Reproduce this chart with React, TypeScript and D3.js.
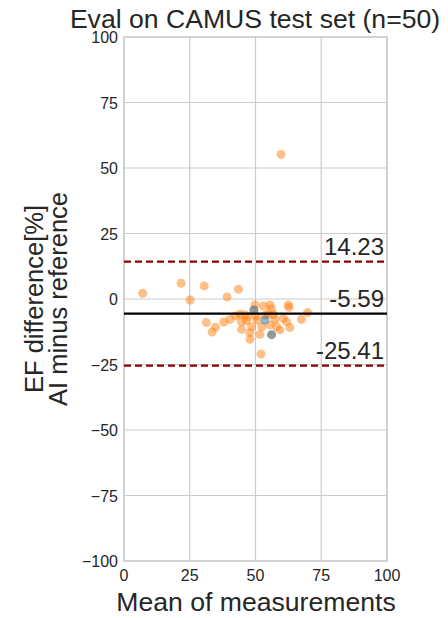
import React from "react";
import * as d3 from "d3";

// mean of the two measurements, and their difference (AI minus reference)
const orangeMean = [
  7.1, 21.7, 30.5, 25.1, 39.2, 43.5, 31.3, 34.8, 33.5, 38.0, 40.3, 44.1, 44.7, 47.9, 47.9, 52.1,
  49.8, 53.0, 55.5, 56.1, 62.5, 62.7, 69.8, 67.5, 63.1, 60.6, 61.8, 57.4, 59.3, 58.0, 55.5, 52.4,
  51.7, 46.6, 46.0, 47.2, 50.2, 50.5, 48.5, 59.7, 56.1, 49.4, 44.7, 53.6, 42.5, 54.8, 56.8,
];
const orangeDiff = [
  2.2, 6.0, 5.0, -0.4, 0.8, 3.7, -9.0, -10.8, -12.6, -8.8, -7.8, -5.8, -11.6, -12.9, -15.4, -21.0,
  -2.2, -2.7, -2.3, -3.8, -2.3, -3.2, -5.2, -7.8, -10.9, -7.4, -8.7, -7.8, -11.8, -10.6, -9.9, -10.6,
  -13.5, -8.3, -6.1, -6.7, -6.5, -8.0, -10.6, 55.2, -13.6, -4.2, -8.7, -6.2, -6.5, -5.8, -6.0,
];
const blueMean = [49.4, 53.6, 56.1];
const blueDiff = [-4.2, -8.0, -13.6];

const meanDiff = -5.59;
const upperLoA = 14.23;
const lowerLoA = -25.41;

const xTicks = [0, 25, 50, 75, 100];
const yTicks = [100, 75, 50, 25, 0, -25, -50, -75, -100];

const FONT = "'Liberation Sans', Arial, sans-serif";
const TXT = "#262626";
const GRID = "#cccccc";

export default function App() {
  const width = 448;
  const height = 618;
  const left = 124, right = 387, top = 37, bottom = 561;

  const x = d3.scaleLinear().domain([0, 100]).range([left, right]);
  const y = d3.scaleLinear().domain([-100, 100]).range([bottom, top]);

  const hLine = (v: number, color: string, dash?: string) => (
    <line x1={left} x2={right} y1={y(v)} y2={y(v)} stroke={color} strokeWidth={2.2} strokeDasharray={dash} />
  );

  const label = (v: number) => (
    <text x={right - 3} y={y(v) - 7} textAnchor="end" fontSize={24} fill={TXT}>
      {v.toFixed(2)}
    </text>
  );

  return (
    <svg
      width={width}
      height={height}
      style={{ position: "absolute", left: 0, top: 0, background: "#fff" }}
      fontFamily={FONT}
    >
      <rect x={0} y={0} width={width} height={height} fill="#fff" />
      {xTicks.map((t) => (
        <line key={"gx" + t} x1={x(t)} x2={x(t)} y1={top} y2={bottom} stroke={GRID} strokeWidth={1.2} />
      ))}
      {yTicks.map((t) => (
        <line key={"gy" + t} x1={left} x2={right} y1={y(t)} y2={y(t)} stroke={GRID} strokeWidth={1.2} />
      ))}
      <rect x={left} y={top} width={right - left} height={bottom - top} fill="none" stroke={GRID} strokeWidth={1.5} />

      {orangeMean.map((m, i) => (
        <circle key={"o" + i} cx={x(m)} cy={y(orangeDiff[i])} r={4.5} fill="#ff7f0e" fillOpacity={0.5} />
      ))}
      {blueMean.map((m, i) => (
        <circle key={"b" + i} cx={x(m)} cy={y(blueDiff[i])} r={4.5} fill="#1f77b4" fillOpacity={0.5} />
      ))}

      {hLine(meanDiff, "#000")}
      {hLine(upperLoA, "#8b0000", "7,4")}
      {hLine(lowerLoA, "#8b0000", "7,4")}
      {label(upperLoA)}
      {label(meanDiff)}
      {label(lowerLoA)}

      {xTicks.map((t) => (
        <text key={"tx" + t} x={x(t)} y={bottom + 20} textAnchor="middle" fontSize={16} fill={TXT}>
          {t}
        </text>
      ))}
      {yTicks.map((t) => (
        <text key={"ty" + t} x={left - 6} y={y(t) + 6} textAnchor="end" fontSize={16} fill={TXT}>
          {t < 0 ? "\u2212" + Math.abs(t) : t}
        </text>
      ))}

      <text x={255} y={27.5} textAnchor="middle" fontSize={26.6} fill={TXT}>
        Eval on CAMUS test set (n=50)
      </text>
      <text x={256} y={611} textAnchor="middle" fontSize={26.6} fill={TXT}>
        Mean of measurements
      </text>
      <text transform={`translate(43,${(top + bottom) / 2}) rotate(-90)`} textAnchor="middle" fontSize={25.5} fill={TXT}>
        EF difference[%]
      </text>
      <text transform={`translate(67,${(top + bottom) / 2}) rotate(-90)`} textAnchor="middle" fontSize={25.5} fill={TXT}>
        AI minus reference
      </text>
    </svg>
  );
}
